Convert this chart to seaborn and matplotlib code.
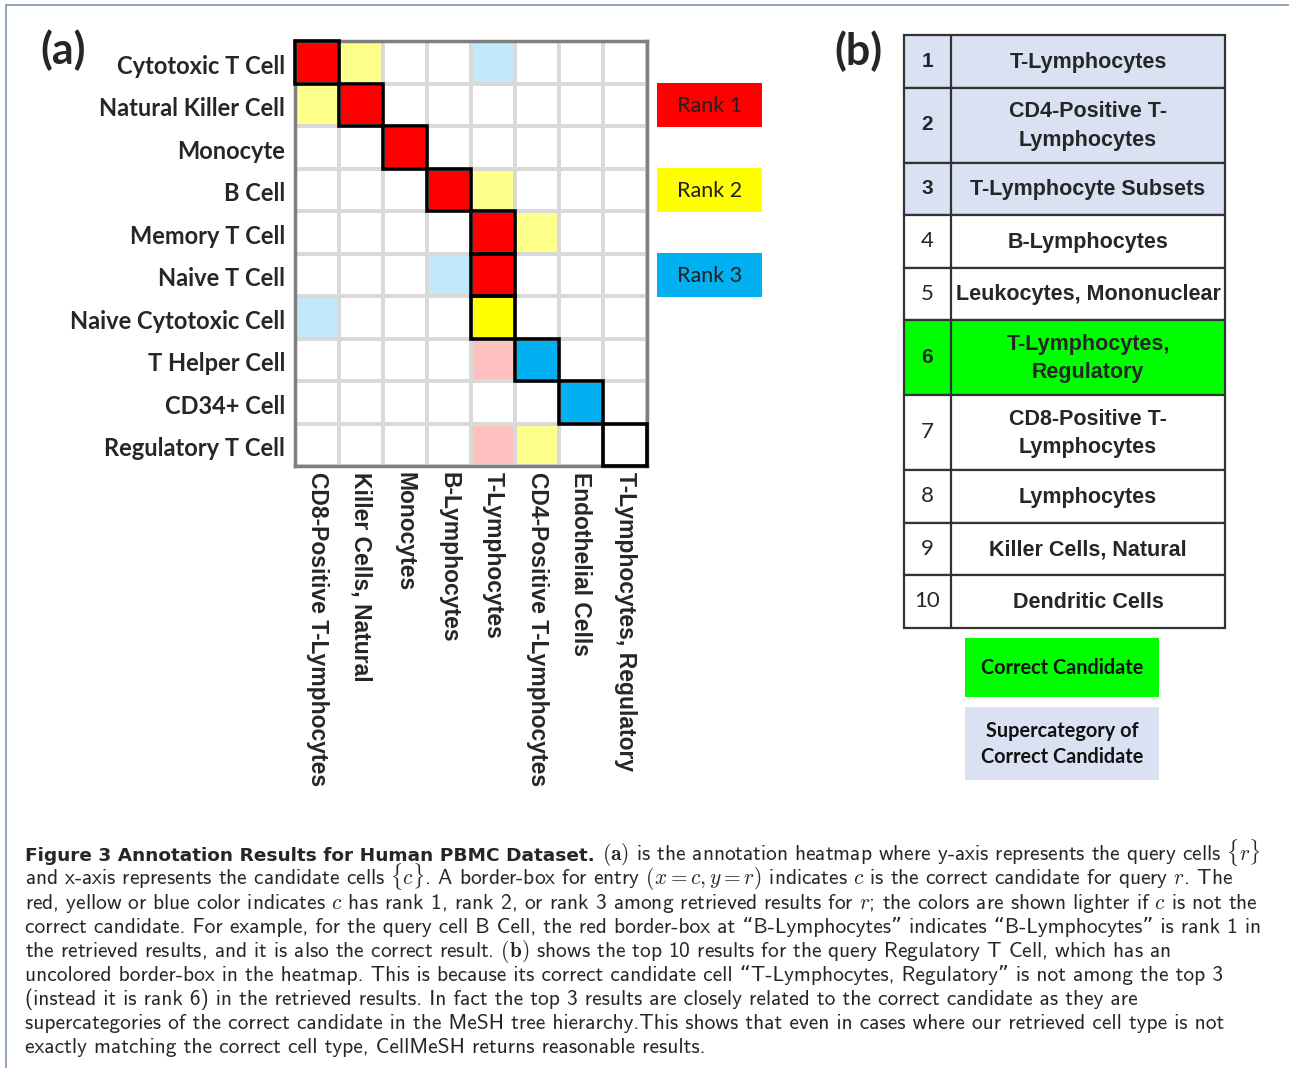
import numpy as np
import pandas as pd
import matplotlib
matplotlib.use("Agg")
import matplotlib.pyplot as plt
from matplotlib.colors import ListedColormap
from matplotlib.patches import Rectangle
from matplotlib.transforms import ScaledTranslation
import seaborn as sns

# ---------------------------------------------------------------------------
# data
# ---------------------------------------------------------------------------
query_cells = ["Cytotoxic T Cell", "Natural Killer Cell", "Monocyte", "B Cell",
               "Memory T Cell", "Naive T Cell", "Naive Cytotoxic Cell",
               "T Helper Cell", "CD34+ Cell", "Regulatory T Cell"]
candidate_cells = ["CD8-Positive T-Lymphocytes", "Killer Cells, Natural", "Monocytes",
                   "B-Lymphocytes", "T-Lymphocytes", "CD4-Positive T-Lymphocytes",
                   "Endothelial Cells", "T-Lymphocytes, Regulatory"]

# rank of each candidate (columns) for each query (rows); 0 = not in top 3
ranks = [
    [1, 2, 0, 0, 3, 0, 0, 0],
    [2, 1, 0, 0, 0, 0, 0, 0],
    [0, 0, 1, 0, 0, 0, 0, 0],
    [0, 0, 0, 1, 2, 0, 0, 0],
    [0, 0, 0, 0, 1, 2, 0, 0],
    [0, 0, 0, 3, 1, 0, 0, 0],
    [3, 0, 0, 0, 2, 0, 0, 0],
    [0, 0, 0, 0, 1, 3, 0, 0],
    [0, 0, 0, 0, 0, 0, 3, 0],
    [0, 0, 0, 0, 1, 2, 0, 0],
]
# column of the correct candidate for each query
correct_col = [0, 1, 2, 3, 4, 4, 4, 5, 6, 7]

# top 10 retrieved results for Regulatory T Cell
top10_rank = list(range(1, 11))
top10_names = ["T-Lymphocytes", "CD4-Positive T-\nLymphocytes", "T-Lymphocyte Subsets",
               "B-Lymphocytes", "Leukocytes, Mononuclear", "T-Lymphocytes,\nRegulatory",
               "CD8-Positive T-\nLymphocytes", "Lymphocytes", "Killer Cells, Natural",
               "Dendritic Cells"]
top10_kind = ["super", "super", "super", "", "", "correct", "", "", "", ""]

rank_labels = ["Rank 1", "Rank 2", "Rank 3"]

caption_bold = "Figure 3 Annotation Results for Human PBMC Dataset."
caption_lines = [
    r"$\mathbf{(a)}$ is the annotation heatmap where y-axis represents the query cells $\{r\}$",
    r"and x-axis represents the candidate cells $\{c\}$. A border-box for entry $(x = c, y = r)$ indicates $c$ is the correct candidate for query $r$. The",
    r"red, yellow or blue color indicates $c$ has rank 1, rank 2, or rank 3 among retrieved results for $r$; the colors are shown lighter if $c$ is not the",
    "correct candidate. For example, for the query cell B Cell, the red border-box at \u201cB-Lymphocytes\u201d indicates \u201cB-Lymphocytes\u201d is rank 1 in",
    r"the retrieved results, and it is also the correct result. $\mathbf{(b)}$ shows the top 10 results for the query Regulatory T Cell, which has an",
    "uncolored border-box in the heatmap. This is because its correct candidate cell \u201cT-Lymphocytes, Regulatory\u201d is not among the top 3",
    "(instead it is rank 6) in the retrieved results. In fact the top 3 results are closely related to the correct candidate as they are",
    "supercategories of the correct candidate in the MeSH tree hierarchy.This shows that even in cases where our retrieved cell type is not",
    "exactly matching the correct cell type, CellMeSH returns reasonable results.",
]

# ---------------------------------------------------------------------------
# styling
# ---------------------------------------------------------------------------
sns.set_style("white")
plt.rcParams["mathtext.fontset"] = "cm"
plt.rcParams["font.family"] = ["Lato", "DejaVu Sans"]

W, H = 1289, 1068
rank_colors = ["#FF0000", "#FFFF00", "#00B0F0"]
light_colors = ["#FFC0C0", "#FFFF8C", "#C0E9FA"]
palette = ["#FFFFFF"] + rank_colors + light_colors

# code 0 = empty, 1-3 = rank of correct candidate, 4-6 = rank (lighter) otherwise
codes = []
for r, row in enumerate(ranks):
    codes.append([v + 3 * (v > 0 and c != correct_col[r]) for c, v in enumerate(row)])
df = pd.DataFrame(codes, index=query_cells, columns=candidate_cells)

fig = plt.figure(figsize=(W / 100, H / 100), dpi=100)

# overlay axes in pixel coordinates for annotations / table / caption
ov = fig.add_axes([0, 0, 1, 1])
ov.set_xlim(0, W)
ov.set_ylim(H, 0)
ov.axis("off")

# frame lines
ov.plot([6, W], [5, 5], color="#8096B0", lw=1.2)
ov.plot([6, 6], [5, H], color="#8096B0", lw=1.2)

# ---------------------------------------------------------------------------
# (a) heatmap
# ---------------------------------------------------------------------------
ax = fig.add_axes([295 / W, 1 - 466 / H, 352 / W, 425 / H])
sns.heatmap(df, ax=ax, cmap=ListedColormap(palette), vmin=-0.5, vmax=6.5,
            cbar=False, linewidths=1.5, linecolor="#D9D9D9")
for s in ax.spines.values():
    s.set_visible(True)
    s.set_color("#7F7F7F")
    s.set_linewidth(2.5)
for r, c in enumerate(correct_col):
    ax.add_patch(Rectangle((c, r), 1, 1, fill=False, ec="black", lw=2.6,
                           clip_on=False, zorder=5))
ax.set_xlabel("")
ax.set_ylabel("")
ax.tick_params(length=0)
ax.tick_params(axis="y", pad=7)
ax.tick_params(axis="x", pad=4)
ax.set_yticklabels(query_cells, rotation=0, fontsize=17, fontweight="bold",
                   fontfamily="Lato")
ax.set_xticklabels(candidate_cells, rotation=270, ha="center", va="top",
                   fontsize=16.5, fontweight="bold", fontfamily="Liberation Sans")
shift = ScaledTranslation(0, -4 / 100, fig.dpi_scale_trans)
for lab in ax.get_yticklabels():
    lab.set_transform(lab.get_transform() + shift)

ov.text(40, 50, "(a)", fontsize=31, fontweight="bold", ha="left", va="center")
ov.text(834, 51, "(b)", fontsize=31, fontweight="bold", ha="left", va="center")

# rank legend
for i, (lab, col) in enumerate(zip(rank_labels, rank_colors)):
    y0 = 83 + 85 * i
    ov.add_patch(Rectangle((657, y0), 105, 44, fc=col, ec="none"))
    ov.text(709.5, y0 + 23, lab, fontsize=15.5, ha="center", va="center", color="#202020")

# ---------------------------------------------------------------------------
# (b) table of top 10 results
# ---------------------------------------------------------------------------
fills = {"super": "#D9E1F2", "correct": "#00FF00", "": "#FFFFFF"}
x0, xd, x1 = 904, 951, 1225
y = 35
for num, name, kind in zip(top10_rank, top10_names, top10_kind):
    h = 52.5 + 22.5 * name.count("\n")
    ov.add_patch(Rectangle((x0, y), x1 - x0, h, fc=fills[kind], ec="#333333", lw=1.6))
    ov.plot([xd, xd], [y, y + h], color="#333333", lw=1.6)
    if kind:
        ov.text((x0 + xd) / 2, y + h / 2, str(num), fontsize=15, fontweight="bold",
                fontfamily="Liberation Sans", ha="center", va="center")
    else:
        ov.text((x0 + xd) / 2, y + h / 2, str(num), fontsize=16, fontfamily="Lato",
                ha="center", va="center")
    ov.text((xd + x1) / 2, y + h / 2 + 1, name, fontsize=15.5, fontweight="bold",
            fontfamily="Liberation Sans", ha="center", va="center", linespacing=1.45)
    y += h

# table legend
ov.add_patch(Rectangle((965, 638), 194, 59, fc="#00FF00", ec="none"))
ov.text(1062, 668, "Correct Candidate", fontsize=14.3, fontweight="bold",
        ha="center", va="center", color="#111111")
ov.add_patch(Rectangle((965, 707), 194, 73, fc="#D9E1F2", ec="none"))
ov.text(1062, 744, "Supercategory of\nCorrect Candidate", fontsize=14.3,
        fontweight="bold", ha="center", va="center", linespacing=1.35, color="#111111")

# ---------------------------------------------------------------------------
# caption
# ---------------------------------------------------------------------------
cap_font = ["cmss10", "DejaVu Sans"]
cap_size = 15.4
base = 861
t_bold = ov.text(25, base, caption_bold, fontsize=13.3, fontweight="bold",
                 fontfamily="DejaVu Sans", ha="left", va="baseline")
fig.canvas.draw()
xb = t_bold.get_window_extent().x1 + 7
ov.text(xb, base, caption_lines[0], fontsize=cap_size, fontfamily=cap_font,
        ha="left", va="baseline")
for i, line in enumerate(caption_lines[1:], start=1):
    ov.text(25, base + 24 * i, line, fontsize=cap_size, fontfamily=cap_font,
            ha="left", va="baseline")

fig.savefig("out.png", dpi=100)
